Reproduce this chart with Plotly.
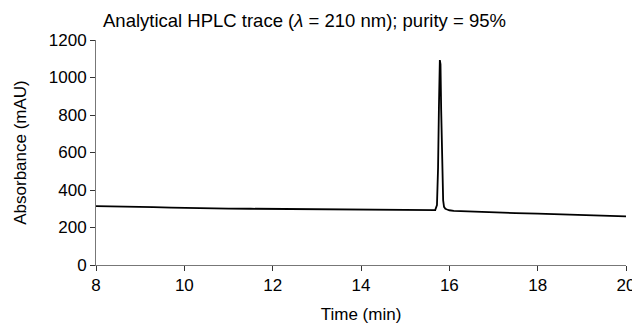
import plotly.graph_objects as go

time_min = [8.0, 8.3, 8.6, 9.0, 9.3, 9.7, 10.0, 10.5, 11.0, 11.5, 12.0, 12.5, 13.0, 13.5,
            14.0, 14.5, 15.0, 15.3, 15.55, 15.68, 15.72, 15.745, 15.765, 15.785, 15.80,
            15.815, 15.83, 15.845, 15.86, 15.88, 15.91, 15.95, 16.0, 16.1, 16.3, 16.7,
            17.15, 17.5, 18.0, 18.5, 19.0, 19.5, 20.0]
absorbance = [314, 313, 313, 314, 309, 306, 304, 302, 301, 300, 299, 298, 297, 296,
              295, 294, 293, 292, 292, 293, 320, 520, 850, 1093, 1070,
              830, 580, 420, 345, 310, 300, 296, 292, 289, 287, 284,
              279, 277, 274, 271, 267, 263, 259]

fig = go.Figure()
fig.add_trace(go.Scatter(x=time_min, y=absorbance, mode="lines",
                         line=dict(color="black", width=1.8), showlegend=False))

font_family = "Liberation Sans, Arial, Helvetica, sans-serif"
axis_common = dict(showgrid=False, zeroline=False, showline=True, linecolor="#777",
                   linewidth=1, ticks="outside", ticklen=5, tickcolor="#333",
                   tickwidth=1, automargin=False, tickfont=dict(size=17),
                   ticklabeloverflow="allow")
# page body has an 8px margin, so the figure is sized 632x319 to fill the 640x327 window
fig.update_layout(
    width=632, height=319,
    margin=dict(l=88, r=14, t=32, b=62),
    paper_bgcolor="white", plot_bgcolor="white",
    font=dict(family=font_family, size=17, color="black"),
    xaxis=dict(range=[8, 20], tickvals=[8, 10, 12, 14, 16, 18, 20],
               title=dict(text="Time (min)", standoff=13, font=dict(size=17)),
               **axis_common),
    yaxis=dict(range=[0, 1200], tickvals=[0, 200, 400, 600, 800, 1000, 1200],
               title=dict(text="Absorbance (mAU)", standoff=17, font=dict(size=17)),
               **axis_common),
    annotations=[dict(text="Analytical HPLC trace (<i>λ</i> = 210 nm); purity = 95%",
                      xref="paper", yref="paper", x=5/530, y=1 + 19/225,
                      xanchor="left", yanchor="middle", showarrow=False,
                      font=dict(size=18.5))],
)
fig.write_html("out.html")
